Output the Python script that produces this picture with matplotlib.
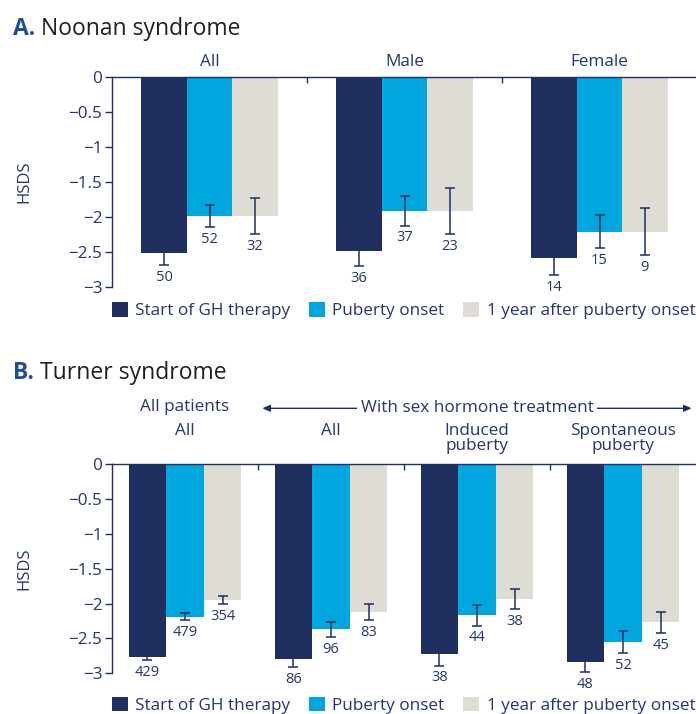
import matplotlib
matplotlib.use("Agg")
import matplotlib.pyplot as plt
import numpy as np

plt.rcParams['font.family'] = ['Open Sans', 'DejaVu Sans']

# Noonan syndrome
nn_groups = ['All', 'Male', 'Female']
nn_start = [-2.52, -2.49, -2.59]
nn_start_err = [0.165, 0.215, 0.24]
nn_start_n = [50, 36, 14]
nn_puberty = [-1.99, -1.91, -2.21]
nn_puberty_err = [0.16, 0.215, 0.235]
nn_puberty_n = [52, 37, 15]
nn_after = [-1.99, -1.91, -2.21]
nn_after_err = [0.26, 0.33, 0.34]
nn_after_n = [32, 23, 9]

# Turner syndrome
ts_groups = ['All', 'All', 'Induced\npuberty', 'Spontaneous\npuberty']
ts_start = [-2.76, -2.79, -2.72, -2.84]
ts_start_err = [0.045, 0.12, 0.17, 0.145]
ts_start_n = [429, 86, 38, 48]
ts_puberty = [-2.19, -2.37, -2.17, -2.55]
ts_puberty_err = [0.05, 0.105, 0.145, 0.155]
ts_puberty_n = [479, 96, 44, 52]
ts_after = [-1.95, -2.12, -1.93, -2.27]
ts_after_err = [0.06, 0.11, 0.145, 0.155]
ts_after_n = [354, 83, 38, 45]

series_names = ['Start of GH therapy', 'Puberty onset', '1 year after puberty onset']
yticks = [0, -0.5, -1, -1.5, -2, -2.5, -3]

NAVY = '#1f2f5f'
CYAN = '#00a6de'
GREY = '#dfdbd5'
TEXT = '#27366b'
colors = [NAVY, CYAN, GREY]

fig = plt.figure(figsize=(6.96, 7.14), dpi=100)


def draw_panel(ax, groups, series, bar_w):
    x = np.arange(len(groups))
    offsets = [-bar_w, 0, bar_w]
    for (vals, errs, ns), off, col, name in zip(series, offsets, colors, series_names):
        xs = x + off
        ax.bar(xs, vals, width=bar_w, color=col, edgecolor='none', label=name, zorder=2)
        ax.errorbar(xs, vals, yerr=errs, fmt='none', ecolor=NAVY, elinewidth=1.1,
                    capsize=3.6, capthick=1.1, zorder=3)
        for xi, v, e, n in zip(xs, vals, errs, ns):
            ax.annotate(str(n), xy=(xi, v - e), xytext=(0, -3.5), textcoords='offset points',
                        ha='center', va='top', fontsize=10.5, color=TEXT,
                        annotation_clip=False)
    ax.set_xlim(-0.5, len(groups) - 0.5)
    ax.set_ylim(-3, 0)
    ax.set_yticks(yticks)
    ax.set_yticklabels(['0' if t == 0 else '\u2212' + ('%g' % -t) for t in yticks])
    ax.xaxis.tick_top()
    ax.set_xticks(x[:-1] + 0.5)
    ax.set_xticklabels([])
    ax.tick_params(axis='x', direction='in', length=4, width=1, color=NAVY)
    ax.tick_params(axis='y', direction='out', length=5, width=1, color=NAVY,
                   labelcolor=TEXT, labelsize=12.3, pad=2)
    for side in ['right', 'bottom']:
        ax.spines[side].set_visible(False)
    for side in ['left', 'top']:
        ax.spines[side].set_color(NAVY)
        ax.spines[side].set_linewidth(1.0)
    ax.spines['left'].set_bounds(-3, 0)
    ax.set_ylabel('HSDS', fontsize=12, color=TEXT, labelpad=26)
    return x


def add_legend(ax, y):
    ax.legend(loc='center left', bbox_to_anchor=(0, y), ncol=3, frameon=False,
              fontsize=12.3, handlelength=0.94, handleheight=0.9, handletextpad=0.42,
              columnspacing=1.1, borderpad=0, borderaxespad=0, labelcolor=TEXT)


# Panel A
axA = fig.add_axes([112 / 696, 1 - 286.7 / 714, 585 / 696, 209.4 / 714])
xa = draw_panel(axA, nn_groups,
                [(nn_start, nn_start_err, nn_start_n),
                 (nn_puberty, nn_puberty_err, nn_puberty_n),
                 (nn_after, nn_after_err, nn_after_n)], 0.233)
for gx, g in zip(xa, nn_groups):
    axA.annotate(g, xy=(gx, 1), xycoords=('data', 'axes fraction'), xytext=(0, 17),
                 textcoords='offset points', ha='center', va='top', fontsize=12.3, color=TEXT)
add_legend(axA, -0.116)

# Panel B
axB = fig.add_axes([112 / 696, 1 - 673.3 / 714, 584 / 696, 209 / 714])
xb = draw_panel(axB, ts_groups,
                [(ts_start, ts_start_err, ts_start_n),
                 (ts_puberty, ts_puberty_err, ts_puberty_n),
                 (ts_after, ts_after_err, ts_after_n)], 0.2575)
for gx, g in zip(xb, ts_groups):
    axB.annotate(g, xy=(gx, 1), xycoords=('data', 'axes fraction'), xytext=(0, 30),
                 textcoords='offset points', ha='center', va='top', fontsize=12.3,
                 color=TEXT, linespacing=0.95)
axB.annotate('All patients', xy=(0, 1), xycoords=('data', 'axes fraction'), xytext=(0, 47),
             textcoords='offset points', ha='center', va='top', fontsize=12.3, color=TEXT)
# bracket arrow spanning the sex-hormone-treated groups
arrow_y = 1 + 56 / 209
axB.annotate('', xy=(0.53, arrow_y), xycoords=('data', 'axes fraction'),
             xytext=(3.47, arrow_y), textcoords=('data', 'axes fraction'),
             arrowprops=dict(arrowstyle='<|-|>,head_length=0.45,head_width=0.2',
                             color=NAVY, lw=1.0, shrinkA=0, shrinkB=0),
             annotation_clip=False)
axB.text(2.0, arrow_y, 'With sex hormone treatment', transform=axB.get_xaxis_transform(),
         ha='center', va='center', fontsize=12.3, color=TEXT,
         bbox=dict(facecolor='white', edgecolor='none', pad=2.5))
add_legend(axB, -0.152)

# Panel titles
for letter, name, ybase in [('A.', ' Noonan syndrome', 35), ('B.', ' Turner syndrome', 379)]:
    t = fig.text(13 / 696, 1 - ybase / 714, letter, fontsize=16.5, fontweight='bold',
                 color='#1d4f9c', va='baseline', ha='left')
    plt.annotate(name, xy=(1, 0), xycoords=t, va='bottom', ha='left', fontsize=16.5,
                 color='#231f20', annotation_clip=False)

fig.savefig('out.png', dpi=100)
